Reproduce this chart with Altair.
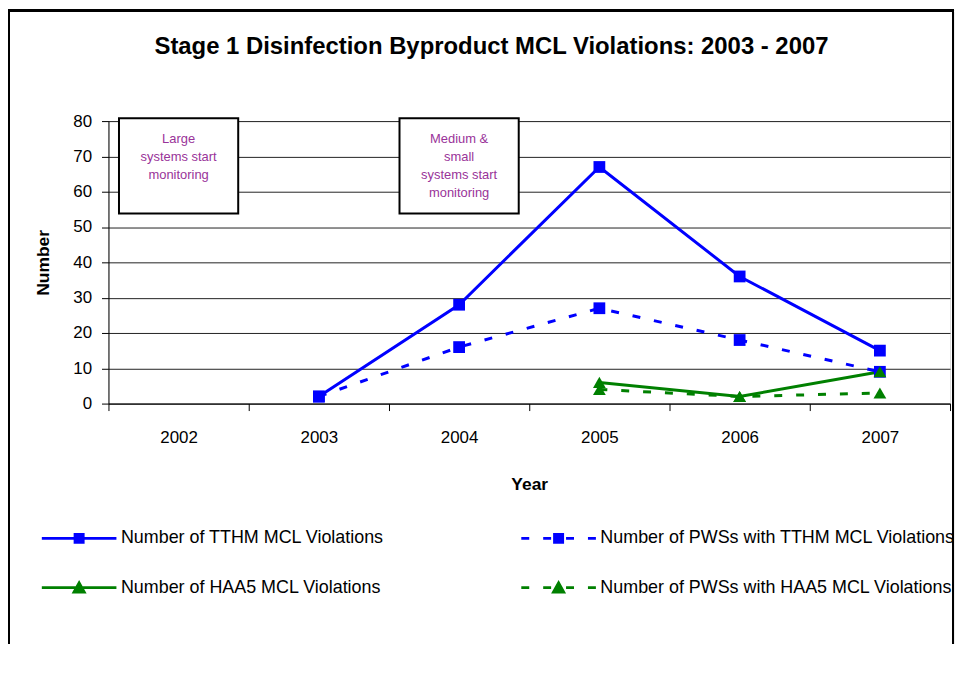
import altair as alt
import pandas as pd

# ---------------- data ----------------
years = [2003, 2004, 2005, 2006, 2007]
tthm = [2, 28, 67, 36, 15]
pws_tthm = [2, 16, 27, 18, 9]
haa5_years = [2005, 2006, 2007]
haa5 = [6, 2, 9]
pws_haa5 = [4, 2, 3]

series = [
    "Number of TTHM MCL Violations",
    "Number of PWSs with TTHM MCL Violations",
    "Number of HAA5 MCL Violations",
    "Number of PWSs with HAA5 MCL Violations",
]
axis_years = [2002, 2003, 2004, 2005, 2006, 2007]
y_ticks = [0, 10, 20, 30, 40, 50, 60, 70, 80]

notes = ["Large\nsystems start\nmonitoring", "Medium &\nsmall\nsystems start\nmonitoring"]
note_years = [2002, 2004]

# ---------------- styles ----------------
colors = ["#0000FF", "#0000FF", "#008000", "#008000"]
FONT = "Liberation Sans, Arial, sans-serif"

# legend symbol paths (unit coords, scaled by sqrt(size)/2)
sq = "M-0.107,-0.107H0.107V0.107H-0.107Z"
tri = "M-0.133,0.12L0,-0.12L0.133,0.12Z"
solid = "M-1,0H1"
dashed = "M-1,0H-0.787M-0.413,0H-0.2M0.2,0H0.413M0.787,0H1"
legend_paths = [solid + sq, dashed + sq, solid + tri, dashed + tri]

rows = []
for y, v in zip(years, tthm):
    rows.append({"year": y, "value": v, "series": series[0]})
for y, v in zip(years, pws_tthm):
    rows.append({"year": y, "value": v, "series": series[1]})
for y, v in zip(haa5_years, haa5):
    rows.append({"year": y, "value": v, "series": series[2]})
for y, v in zip(haa5_years, pws_haa5):
    rows.append({"year": y, "value": v, "series": series[3]})
df = pd.DataFrame(rows)

notes_df = pd.DataFrame({"year": note_years, "note": notes})

x_scale = alt.Scale(domain=[2001.5, 2007.5], nice=False, zero=False)
y_scale = alt.Scale(domain=[0, 80], nice=False)

tick_values = []
for y in axis_years:
    tick_values += [y - 0.5, y]
tick_values.append(axis_years[-1] + 0.5)

x_axis = alt.Axis(
    title="Year",
    values=tick_values,
    labelExpr="datum.value % 1 === 0 ? '' + datum.value : ''",
    tickOpacity={"condition": {"test": "datum.value % 1 === 0", "value": 0}, "value": 1},
    labelOverlap=False,
    labelFlush=False,
    grid=False,
    tickSize=7,
    tickColor="black",
    domainColor="black",
    labelPadding=19,
    labelFont=FONT,
    labelFontSize=17,
    labelColor="black",
    titleFont=FONT,
    titleFontSize=17.5,
    titleFontWeight="bold",
    titleColor="black",
    titlePadding=30,
)
y_axis = alt.Axis(
    title="Number",
    values=y_ticks,
    labelOverlap=False,
    grid=True,
    gridColor="#222222",
    gridWidth=1,
    tickSize=7,
    tickColor="black",
    domainColor="black",
    labelPadding=10,
    labelFont=FONT,
    labelFontSize=17,
    labelColor="black",
    titleFont=FONT,
    titleFontSize=17.5,
    titleFontWeight="bold",
    titleColor="black",
    titlePadding=20,
)

legend = alt.Legend(
    title=None,
    orient="none",
    direction="horizontal",
    legendX=-68.5,
    legendY=380,
    columns=2,
    columnPadding=131,
    rowPadding=-7.5,
    symbolSize=5625,
    symbolStrokeWidth=3,
    symbolOpacity=1,
    symbolFillColor="#0000FF",
    symbolStrokeColor="#0000FF",
    labelOffset=3,
    labelFont=FONT,
    labelFontSize=18,
    labelColor="black",
    labelLimit=600,
    padding=0,
)

X = alt.X("year:Q", scale=x_scale, axis=x_axis)
Y = alt.Y("value:Q", scale=y_scale, axis=y_axis)
FILL = alt.Fill("series:N", scale=alt.Scale(domain=series, range=colors), legend=legend)
STROKE = alt.Stroke("series:N", scale=alt.Scale(domain=series, range=colors), legend=legend)

base = alt.Chart(df)

border = alt.Chart(df).mark_rect(fill=None, stroke="black", strokeWidth=2).encode(
    x=alt.value(-100), x2=alt.value(849), y=alt.value(-111), y2=alt.value(700)
)

boxes = (
    alt.Chart(notes_df)
    .transform_calculate(x1="datum.year - 0.425", x2="datum.year + 0.425")
    .mark_rect(fill="white", stroke="black", strokeWidth=2)
    .encode(
        x=alt.X("x1:Q", scale=x_scale, axis=x_axis),
        x2="x2:Q",
        y=alt.datum(80.8, scale=y_scale, axis=y_axis),
        y2=alt.datum(53.8),
    )
)

note_text = (
    alt.Chart(notes_df)
    .mark_text(
        font=FONT, fontSize=13, color="#993399", lineBreak="\n", lineHeight=18,
        align="center", baseline="top", dy=15,
    )
    .encode(
        x=X,
        y=alt.datum(80.8, scale=y_scale, axis=y_axis),
        text="note:N",
    )
)

# legend-only layer (no rows drawn; the legend comes from the scales' domains)
legend_layer = (
    base.transform_filter("false")
    .mark_point(filled=True, opacity=1, size=5625, strokeWidth=3)
    .encode(
        x=X,
        y=Y,
        fill=FILL,
        stroke=STROKE,
        shape=alt.Shape("series:N", scale=alt.Scale(domain=series, range=legend_paths), legend=legend),
    )
)

solid_lines = (
    base.transform_filter(alt.FieldOneOfPredicate(field="series", oneOf=[series[0], series[2]]))
    .mark_line(strokeWidth=3)
    .encode(x=X, y=Y, stroke=STROKE, detail="series:N")
)
dashed_lines = (
    base.transform_filter(alt.FieldOneOfPredicate(field="series", oneOf=[series[1], series[3]]))
    .mark_line(strokeWidth=3, strokeDash=[8, 14])
    .encode(x=X, y=Y, stroke=STROKE, detail="series:N")
)

squares = (
    base.transform_filter(alt.FieldOneOfPredicate(field="series", oneOf=series[:2]))
    .mark_point(shape="square", filled=True, opacity=1, size=140)
    .encode(x=X, y=Y, fill=FILL)
)
triangles = (
    base.transform_filter(alt.FieldOneOfPredicate(field="series", oneOf=series[2:]))
    .mark_point(shape="triangle-up", filled=True, opacity=1, size=165)
    .encode(x=X, y=Y, fill=FILL)
)

chart = (
    alt.layer(border, boxes, note_text, legend_layer, solid_lines, dashed_lines, squares, triangles)
    .properties(
        width=846,
        height=284,
        autosize=alt.AutoSizeParams(type="none"),
        padding={"left": 101, "top": 112, "right": 5, "bottom": 240},
        title=alt.TitleParams(
            "Stage 1 Disinfection Byproduct MCL Violations: 2003 - 2007",
            font=FONT, fontSize=24, fontWeight="bold", color="black",
            anchor="middle", frame="group", dx=-38, offset=-50,
        ),
    )
    .configure_view(stroke=None)
    .configure(background="white")
)

chart.save("out.html", embed_options={"renderer": "svg", "actions": False})
